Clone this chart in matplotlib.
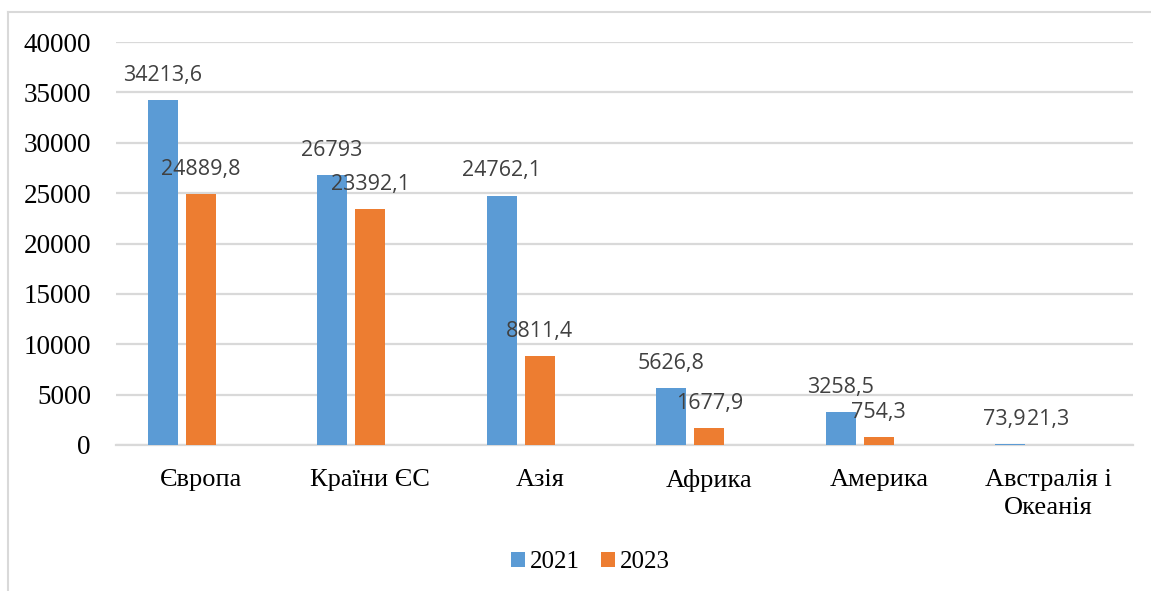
import matplotlib
matplotlib.use("Agg")
import matplotlib.pyplot as plt
from matplotlib.patches import Patch
from matplotlib.lines import Line2D

categories = ["Європа", "Країни ЄС", "Азія", "Африка", "Америка", "Австралія і\nОкеанія"]
values_2021 = [34213.6, 26793, 24762.1, 5626.8, 3258.5, 73.9]
values_2023 = [24889.8, 23392.1, 8811.4, 1677.9, 754.3, 21.3]
labels_2021 = ["34213,6", "26793", "24762,1", "5626,8", "3258,5", "73,9"]
labels_2023 = ["24889,8", "23392,1", "8811,4", "1677,9", "754,3", "21,3"]
yticks = [0, 5000, 10000, 15000, 20000, 25000, 30000, 35000, 40000]

blue = "#5B9BD5"
orange = "#ED7D31"
grid = "#D9D9D9"
serif = ["Liberation Serif", "DejaVu Serif"]
sans = ["Open Sans", "DejaVu Sans"]

fig = plt.figure(figsize=(11.51, 5.91), dpi=100)
ax = fig.add_axes([116/1151, 1-445/591, (1133-116)/1151, (445-42)/591])

w = 30/169.5
off = 38.25/169.5
x = list(range(len(categories)))
x1 = [i - off for i in x]
x2 = [i for i in x]
ax.bar(x1, values_2021, width=w, color=blue, zorder=3)
ax.bar(x2, values_2023, width=w, color=orange, zorder=3)

# small horizontal nudges (points) to avoid label collision, as Excel does
dx_2021 = [0, 0, 0, 0, 0, -4]
dx_2023 = [0, 0, 0, 0, 0, 0]

for xi, v, t, d in zip(x1, values_2021, labels_2021, dx_2021):
    ax.annotate(t, (xi, v), xytext=(d, 18), textcoords="offset points",
                ha="center", va="center", fontsize=15.5, color="#404040", family=sans)
for xi, v, t, d in zip(x2, values_2023, labels_2023, dx_2023):
    ax.annotate(t, (xi, v), xytext=(d, 18), textcoords="offset points",
                ha="center", va="center", fontsize=15.5, color="#404040", family=sans)

ax.set_xlim(-0.5, len(categories) - 0.5)
ax.set_ylim(0, 40000)
ax.set_yticks(yticks)
ax.set_yticklabels([str(t) for t in yticks], family=serif, fontsize=19.5)
ax.set_xticks(x)
ax.set_xticklabels(categories, family=serif, fontsize=19, linespacing=1.35)
ax.tick_params(axis="both", length=0)
ax.tick_params(axis="y", pad=18)
ax.tick_params(axis="x", pad=17)
for s in ["top", "right", "left"]:
    ax.spines[s].set_visible(False)
ax.spines["bottom"].set_color(grid)
ax.spines["bottom"].set_linewidth(1.6)
ax.spines["bottom"].set_zorder(2)
ax.yaxis.grid(True, color=grid, linewidth=1.6, zorder=0)
ax.set_axisbelow(True)

handles = [Patch(facecolor=blue, label="2021"), Patch(facecolor=orange, label="2023")]
fig.legend(handles=handles, loc="center", bbox_to_anchor=(590/1151, 1-562/591), ncol=2,
           frameon=False, prop={"family": serif, "size": 18},
           handlelength=0.56, handleheight=0.56, handletextpad=0.2, columnspacing=0.84)

fig.add_artist(Line2D([8/1151, 8/1151], [0, 1-12/591], color=grid, linewidth=1.5, transform=fig.transFigure))
fig.add_artist(Line2D([8/1151, 1], [1-12/591, 1-12/591], color=grid, linewidth=1.5, transform=fig.transFigure))

fig.savefig("out.png", dpi=100)
